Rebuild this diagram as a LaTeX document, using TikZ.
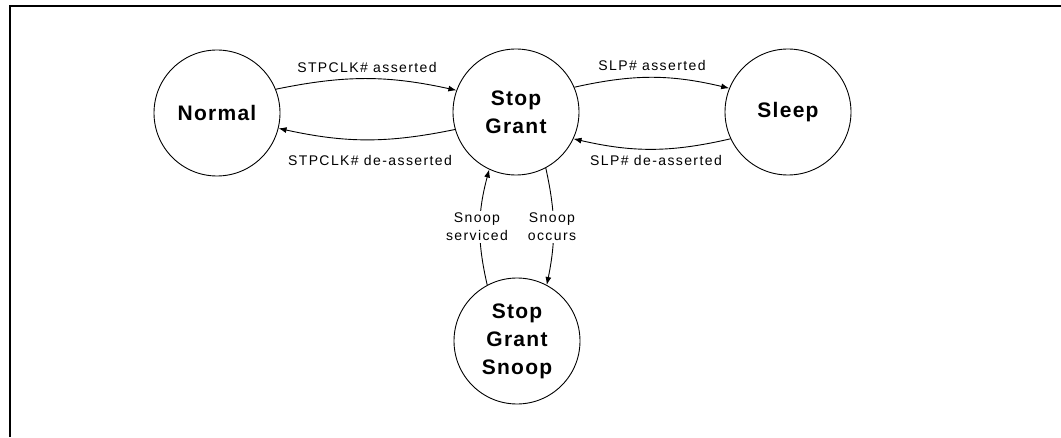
\documentclass[tikz,border=0pt]{standalone}
\usepackage{fontspec}
\setmainfont{Liberation Sans}
\newfontfamily\lblfont[LetterSpace=10]{Liberation Sans}
\newfontfamily\statefont[LetterSpace=6]{Liberation Sans}
\usetikzlibrary{arrows.meta}
\begin{document}
\begin{tikzpicture}[x=1pt,y=1pt,
  state/.style={circle, draw, line width=0.9pt, minimum size=126pt, inner sep=0pt, align=center,
                font=\statefont\fontsize{21}{28}\selectfont\bfseries},
  trans/.style={line width=0.9pt, -{Latex[length=8pt,width=6pt]}},
  lbl/.style={font=\lblfont\fontsize{14}{18}\selectfont, anchor=base, inner sep=1pt},
  snooplbl/.style={font=\lblfont\fontsize{14}{18}\selectfont, align=center, fill=white, inner sep=2pt}
]
\useasboundingbox (0,0) rectangle (1061,437);
\draw[line width=2pt] (10,0) -- (10,431) -- (1061,431);

\node[state] (normal) at (217,324) {Normal};
\node[state] (sg) at (516,325) {Stop\\Grant};
\node[state] (sleep) at (788,325) {Sleep};
\node[state] (sgs) at (517,96) {Stop\\Grant\\Snoop};

\draw[trans] (normal.22) to[bend left=12] (sg.160);
\draw[trans] (sg.196) to[bend left=12] (normal.-14);
\draw[trans] (sg.23) to[bend left=13] (sleep.158);
\draw[trans] (sleep.205) to[bend left=13] (sg.-25);
\draw[trans] (sg.-62) to[bend left=12] (sgs.62);
\draw[trans] (sgs.118) to[bend left=14] (sg.245);

\node[lbl] (l1) at (367,364) {STPCLK\# asserted};
\node[lbl] (l2) at (370,271) {STPCLK\# de-asserted};
\node[lbl] (l3) at (652,366) {SLP\# asserted};
\node[lbl] (l4) at (656,271) {SLP\# de-asserted};
\node[snooplbl] (l5) at (477,210) {Snoop\\serviced};
\node[snooplbl] (l6) at (552,210) {Snoop\\occurs};
\end{tikzpicture}
\end{document}
